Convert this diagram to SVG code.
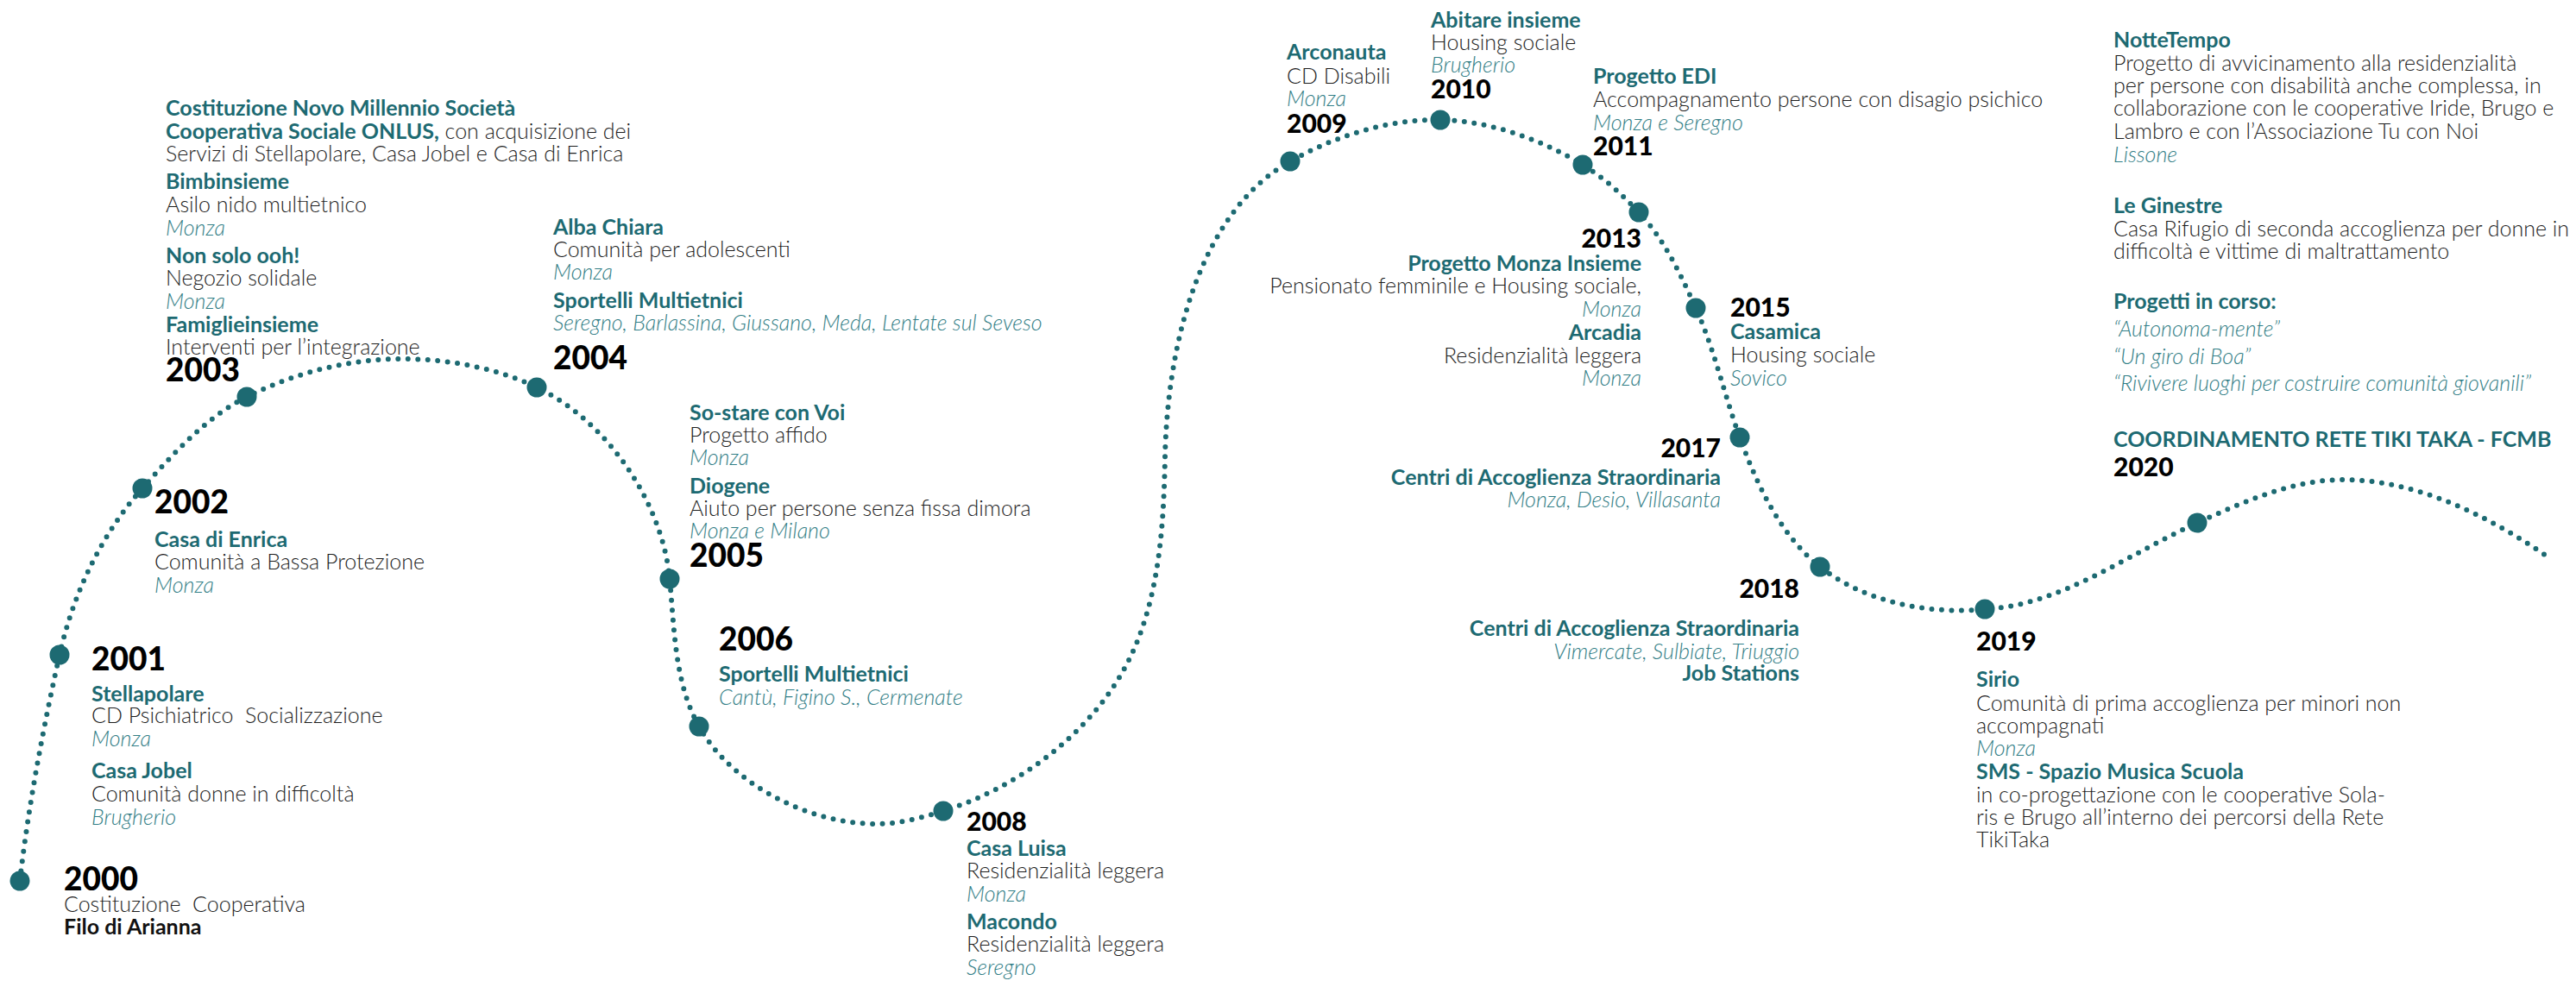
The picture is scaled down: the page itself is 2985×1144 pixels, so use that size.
<svg xmlns="http://www.w3.org/2000/svg" width="2985" height="1144" viewBox="0 0 2985 1144">
<style>
text{font-family:Lato,"Open Sans","Liberation Sans",sans-serif}
.yb{font-weight:900;font-size:37px;fill:#000}
.ys{font-weight:900;font-size:30px;fill:#000}
.t{font-weight:700;font-size:25px;fill:#1d6a72}
.k{font-weight:700;font-size:25px;fill:#111}
.b{font-weight:300;font-size:25px;fill:#1e1e1e}
.l{font-weight:300;font-style:italic;font-size:25px;fill:#327e86}
.r{text-anchor:end}
.dot{fill:#1d6a72}
.line{fill:none;stroke:#1d6a72;stroke-width:6;stroke-linecap:round;stroke-dasharray:0 11.5}
</style>
<rect width="2985" height="1144" fill="#fff"/>
<g id="connectors">
<path class="line" d="M23,1021 C33.2,932.9 49.7,845.6 69,759 C84.7,688.8 117.1,619.6 165,566 C200.7,526 238.1,484.1 286,460 C340.8,432.4 403.6,416 465,416 C518.5,416 573.8,426 622,449 C703,487.7 767.4,581.4 776,671 C781.5,728.8 781.5,791.5 810,842 C848.4,910.1 937.7,955 1016,955 C1042.1,955 1068.1,947.8 1093,940 C1178.7,913.4 1261.4,851.9 1304,773 C1343.1,700.5 1348.4,612.4 1350,530 C1352.5,406 1387.1,247.8 1495,187 C1547.4,157.5 1608.8,137.8 1669,139 C1726.7,140.2 1784.6,161.2 1834,191 C1858.3,205.7 1879.5,225.3 1899,246 C1928.5,277.3 1947.4,317.9 1965,357 C1986.6,405 1998,457.4 2016,507 C2036,562.3 2063.1,620.5 2109,657 C2160.2,697.7 2234.6,712.6 2300,706 C2388,702 2465.5,642.3 2546,606 C2599.5,581.9 2656.2,556 2715,556 C2799.8,556 2883.5,597.7 2953,646"/>
</g>
<g id="n2000">
<circle class="dot" cx="23" cy="1021" r="11.5"/>
<text class="yb" x="74" y="1032">2000</text>
<text class="b" x="74" y="1057" xml:space="preserve">Costituzione  Cooperativa</text>
<text class="k" x="74" y="1083">Filo di Arianna</text>
</g>
<g id="n2001">
<circle class="dot" cx="69" cy="759" r="11.5"/>
<text class="yb" x="106" y="777">2001</text>
<text class="t" x="106" y="813">Stellapolare</text>
<text class="b" x="106" y="838" xml:space="preserve">CD Psichiatrico  Socializzazione</text>
<text class="l" x="106" y="865">Monza</text>
<text class="t" x="106" y="902">Casa Jobel</text>
<text class="b" x="106" y="929">Comunità donne in difficoltà</text>
<text class="l" x="106" y="956">Brugherio</text>
</g>
<g id="n2002">
<circle class="dot" cx="165" cy="566" r="11.5"/>
<text class="yb" x="179" y="595">2002</text>
<text class="t" x="179" y="634">Casa di Enrica</text>
<text class="b" x="179" y="660">Comunità a Bassa Protezione</text>
<text class="l" x="179" y="687">Monza</text>
</g>
<g id="n2003">
<circle class="dot" cx="286" cy="460" r="11.5"/>
<text class="t" x="192" y="134">Costituzione Novo Millennio Società</text>
<text x="192" y="161"><tspan class="t">Cooperativa Sociale ONLUS,</tspan><tspan class="b"> con acquisizione dei</tspan></text>
<text class="b" x="192" y="187">Servizi di Stellapolare, Casa Jobel e Casa di Enrica</text>
<text class="t" x="192" y="219">Bimbinsieme</text>
<text class="b" x="192" y="246">Asilo nido multietnico</text>
<text class="l" x="192" y="273">Monza</text>
<text class="t" x="192" y="305">Non solo ooh!</text>
<text class="b" x="192" y="331">Negozio solidale</text>
<text class="l" x="192" y="358">Monza</text>
<text class="t" x="192" y="385">Famiglieinsieme</text>
<text class="b" x="192" y="411">Interventi per l’integrazione</text>
<text class="yb" x="192" y="442">2003</text>
</g>
<g id="n2004">
<circle class="dot" cx="622" cy="449" r="11.5"/>
<text class="t" x="641" y="272">Alba Chiara</text>
<text class="b" x="641" y="298">Comunità per adolescenti</text>
<text class="l" x="641" y="324">Monza</text>
<text class="t" x="641" y="357">Sportelli Multietnici</text>
<text class="l" x="641" y="383">Seregno, Barlassina, Giussano, Meda, Lentate sul Seveso</text>
<text class="yb" x="641" y="428">2004</text>
</g>
<g id="n2005">
<circle class="dot" cx="776" cy="671" r="11.5"/>
<text class="t" x="799" y="487">So-stare con Voi</text>
<text class="b" x="799" y="513">Progetto affido</text>
<text class="l" x="799" y="539">Monza</text>
<text class="t" x="799" y="572">Diogene</text>
<text class="b" x="799" y="598">Aiuto per persone senza fissa dimora</text>
<text class="l" x="799" y="624">Monza e Milano</text>
<text class="yb" x="799" y="657">2005</text>
</g>
<g id="n2006">
<circle class="dot" cx="810" cy="842" r="11.5"/>
<text class="yb" x="833" y="754">2006</text>
<text class="t" x="833" y="790">Sportelli Multietnici</text>
<text class="l" x="833" y="817">Cantù, Figino S., Cermenate</text>
</g>
<g id="n2008">
<circle class="dot" cx="1093" cy="940" r="11.5"/>
<text class="ys" x="1120" y="963">2008</text>
<text class="t" x="1120" y="992">Casa Luisa</text>
<text class="b" x="1120" y="1018">Residenzialità leggera</text>
<text class="l" x="1120" y="1045">Monza</text>
<text class="t" x="1120" y="1077">Macondo</text>
<text class="b" x="1120" y="1103">Residenzialità leggera</text>
<text class="l" x="1120" y="1130">Seregno</text>
</g>
<g id="n2009">
<circle class="dot" cx="1495" cy="187" r="11.5"/>
<text class="t" x="1491" y="69">Arconauta</text>
<text class="b" x="1491" y="97">CD Disabili</text>
<text class="l" x="1491" y="123">Monza</text>
<text class="ys" x="1491" y="154">2009</text>
</g>
<g id="n2010">
<circle class="dot" cx="1669" cy="139" r="11.5"/>
<text class="t" x="1658" y="32">Abitare insieme</text>
<text class="b" x="1658" y="58">Housing sociale</text>
<text class="l" x="1658" y="84">Brugherio</text>
<text class="ys" x="1658" y="114">2010</text>
</g>
<g id="n2011">
<circle class="dot" cx="1834" cy="191" r="11.5"/>
<text class="t" x="1846" y="97">Progetto EDI</text>
<text class="b" x="1846" y="124">Accompagnamento persone con disagio psichico</text>
<text class="l" x="1846" y="151">Monza e Seregno</text>
<text class="ys" x="1846" y="180">2011</text>
</g>
<g id="n2013">
<circle class="dot" cx="1899" cy="246" r="11.5"/>
<text class="ys r" x="1902" y="287">2013</text>
<text class="t r" x="1902" y="314">Progetto Monza Insieme</text>
<text class="b r" x="1902" y="340">Pensionato femminile e Housing sociale,</text>
<text class="l r" x="1902" y="367">Monza</text>
<text class="t r" x="1902" y="394">Arcadia</text>
<text class="b r" x="1902" y="421">Residenzialità leggera</text>
<text class="l r" x="1902" y="447">Monza</text>
</g>
<g id="n2015">
<circle class="dot" cx="1965" cy="357" r="11.5"/>
<text class="ys" x="2005" y="367">2015</text>
<text class="t" x="2005" y="393">Casamica</text>
<text class="b" x="2005" y="420">Housing sociale</text>
<text class="l" x="2005" y="447">Sovico</text>
</g>
<g id="n2017">
<circle class="dot" cx="2016" cy="507" r="11.5"/>
<text class="ys r" x="1994" y="530">2017</text>
<text class="t r" x="1994" y="562">Centri di Accoglienza Straordinaria</text>
<text class="l r" x="1994" y="588">Monza, Desio, Villasanta</text>
</g>
<g id="n2018">
<circle class="dot" cx="2109" cy="657" r="11.5"/>
<text class="ys r" x="2085" y="693">2018</text>
<text class="t r" x="2085" y="737">Centri di Accoglienza Straordinaria</text>
<text class="l r" x="2085" y="764">Vimercate, Sulbiate, Triuggio</text>
<text class="t r" x="2085" y="789">Job Stations</text>
</g>
<g id="n2019">
<circle class="dot" cx="2300" cy="706" r="11.5"/>
<text class="ys" x="2290" y="754">2019</text>
<text class="t" x="2290" y="796">Sirio</text>
<text class="b" x="2290" y="824">Comunità di prima accoglienza per minori non</text>
<text class="b" x="2290" y="850">accompagnati</text>
<text class="l" x="2290" y="876">Monza</text>
<text class="t" x="2290" y="903">SMS - Spazio Musica Scuola</text>
<text class="b" x="2290" y="930">in co-progettazione con le cooperative Sola-</text>
<text class="b" x="2290" y="956">ris e Brugo all’interno dei percorsi della Rete</text>
<text class="b" x="2290" y="982">TikiTaka</text>
</g>
<g id="n2020">
<circle class="dot" cx="2546" cy="606" r="11.5"/>
<text class="t" x="2449" y="55">NotteTempo</text>
<text class="b" x="2449" y="82">Progetto di avvicinamento alla residenzialità</text>
<text class="b" x="2449" y="108">per persone con disabilità anche complessa, in</text>
<text class="b" x="2449" y="134">collaborazione con le cooperative Iride, Brugo e</text>
<text class="b" x="2449" y="161">Lambro e con l’Associazione Tu con Noi</text>
<text class="l" x="2449" y="188">Lissone</text>
<text class="t" x="2449" y="247">Le Ginestre</text>
<text class="b" x="2449" y="274">Casa Rifugio di seconda accoglienza per donne in</text>
<text class="b" x="2449" y="300">difficoltà e vittime di maltrattamento</text>
<text class="t" x="2449" y="358">Progetti in corso:</text>
<text class="l" x="2449" y="390">“Autonoma-mente”</text>
<text class="l" x="2449" y="422">“Un giro di Boa”</text>
<text class="l" x="2449" y="453">“Rivivere luoghi per costruire comunità giovanili”</text>
<text class="t" x="2449" y="518">COORDINAMENTO RETE TIKI TAKA - FCMB</text>
<text class="ys" x="2449" y="552">2020</text>
</g>
</svg>
